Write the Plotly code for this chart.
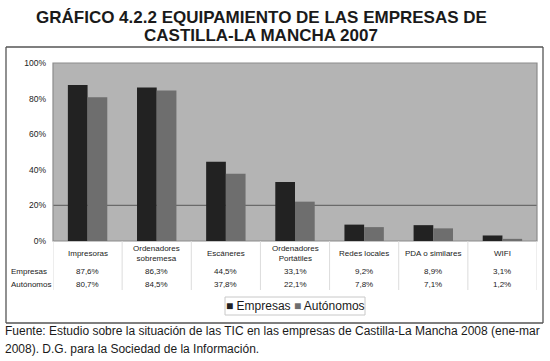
import plotly.graph_objects as go

categories = ["Impresoras", "Ordenadores<br>sobremesa", "Escáneres", "Ordenadores<br>Portátiles",
              "Redes locales", "PDA o similares", "WIFI"]
empresas = [87.6, 86.3, 44.5, 33.1, 9.2, 8.9, 3.1]
autonomos = [80.7, 84.5, 37.8, 22.1, 7.8, 7.1, 1.2]
empresas_lbl = ["87,6%", "86,3%", "44,5%", "33,1%", "9,2%", "8,9%", "3,1%"]
autonomos_lbl = ["80,7%", "84,5%", "37,8%", "22,1%", "7,8%", "7,1%", "1,2%"]
ytick_vals = [0, 20, 40, 60, 80, 100]
ytick_text = ["0%", "20%", "40%", "60%", "80%", "100%"]
series_names = ["Empresas", "Autónomos"]
series_colors = ["#222222", "#6e6e6e"]

W, H = 550, 361
L, R, T, B = 53, 13, 63, 120
PH = H - T - B  # plot height px


def py(ypx):
    return (H - B - ypx) / PH


def px(xpx):
    return (xpx - L) / (W - L - R)


FONT = "Liberation Sans, Arial, sans-serif"
TFONT = "Liberation Sans Narrow, Arial Narrow, sans-serif"
xs = list(range(len(categories)))

fig = go.Figure()
fig.add_bar(x=xs, y=empresas, name=series_names[0], marker=dict(color=series_colors[0], line=dict(width=0)))
fig.add_bar(x=xs, y=autonomos, name=series_names[1], marker=dict(color=series_colors[1], line=dict(width=0)))

shapes = []
# outer frame (four sides)
fl, fr, ft, fb = px(6), px(543), py(47), py(323)
for (a0, b0, a1, b1) in [(fl, ft, fr, ft), (fl, fb, fr, fb), (fl, ft, fl, fb), (fr, ft, fr, fb)]:
    shapes.append(dict(type="line", xref="paper", yref="paper", x0=a0, y0=b0, x1=a1, y1=b1,
                       line=dict(color="#555555", width=1.3)))
# gridline at 20%
shapes.append(dict(type="line", xref="paper", yref="y", x0=0, x1=1, y0=20, y1=20,
                   line=dict(color="#6a6a6a", width=1.2), layer="below"))
# plot border
shapes.append(dict(type="rect", xref="paper", yref="paper", x0=0, x1=1, y0=0, y1=1,
                   line=dict(color="#8c8c8c", width=1.2), layer="below"))
# table dividers
for i in range(len(categories) + 1):
    shapes.append(dict(type="line", xref="x", yref="paper", x0=i - 0.5, x1=i - 0.5, y0=0, y1=py(290),
                       line=dict(color="#dcdcdc", width=1)))
# legend box
shapes.append(dict(type="rect", xref="paper", yref="paper", x0=px(225), x1=px(365), y0=py(315), y1=py(297),
                   line=dict(color="#c8c8c8", width=1), fillcolor="white"))

ann = []
ann.append(dict(text="<b>GRÁFICO 4.2.2 EQUIPAMIENTO DE LAS EMPRESAS DE</b>", x=px(261), y=py(17),
                xref="paper", yref="paper", showarrow=False, xanchor="center", yanchor="middle",
                font=dict(family=TFONT, size=17, color="#1a1a1a")))
ann.append(dict(text="<b>CASTILLA-LA MANCHA 2007</b>", x=px(261), y=py(35),
                xref="paper", yref="paper", showarrow=False, xanchor="center", yanchor="middle",
                font=dict(family=TFONT, size=17, color="#1a1a1a")))
for i, c in enumerate(categories):
    ann.append(dict(text=c, x=i, y=py(253), xref="x", yref="paper", showarrow=False,
                    xanchor="center", yanchor="middle", font=dict(family=FONT, size=8, color="#222222")))
    ann.append(dict(text=empresas_lbl[i], x=i, y=py(271), xref="x", yref="paper", showarrow=False,
                    xanchor="center", yanchor="middle", font=dict(family=FONT, size=8, color="#222222")))
    ann.append(dict(text=autonomos_lbl[i], x=i, y=py(284), xref="x", yref="paper", showarrow=False,
                    xanchor="center", yanchor="middle", font=dict(family=FONT, size=8, color="#222222")))
ann.append(dict(text=series_names[0], x=px(9), y=py(271), xref="paper", yref="paper", showarrow=False,
                xanchor="left", yanchor="middle", font=dict(family=FONT, size=8, color="#222222")))
ann.append(dict(text=series_names[1], x=px(9), y=py(284), xref="paper", yref="paper", showarrow=False,
                xanchor="left", yanchor="middle", font=dict(family=FONT, size=8, color="#222222")))
# legend
legend_txt = (f"<span style='color:{series_colors[0]}'>■</span> {series_names[0]} "
              f"<span style='color:{series_colors[1]}'>■</span> {series_names[1]}")
ann.append(dict(text=legend_txt, x=px(295), y=py(306), xref="paper", yref="paper", showarrow=False,
                xanchor="center", yanchor="middle", font=dict(family=FONT, size=12, color="#1a1a1a")))
ann.append(dict(text="Fuente: Estudio sobre la situación de las TIC en las empresas de Castilla-La Mancha 2008 (ene-mar",
                x=px(3), y=py(331), xref="paper", yref="paper", showarrow=False, xanchor="left", yanchor="middle",
                font=dict(family=FONT, size=12, color="#1a1a1a")))
ann.append(dict(text="2008). D.G. para la Sociedad de la Información.",
                x=px(3), y=py(349), xref="paper", yref="paper", showarrow=False, xanchor="left", yanchor="middle",
                font=dict(family=FONT, size=12, color="#1a1a1a")))

fig.update_layout(
    width=W, height=H,
    margin=dict(l=L, r=R, t=T, b=B, autoexpand=False),
    paper_bgcolor="white",
    plot_bgcolor="#b4b4b4",
    barmode="group",
    bargap=0.43,
    bargroupgap=0,
    shapes=shapes,
    annotations=ann,
    showlegend=False,
    xaxis=dict(range=[-0.5, len(categories) - 0.5], showticklabels=False, showgrid=False,
               zeroline=False, showline=False, ticks=""),
    yaxis=dict(range=[0, 100], tickvals=ytick_vals, ticktext=ytick_text, showgrid=False,
               zeroline=False, showline=False, ticks="", ticklabelstandoff=6,
               tickfont=dict(family=FONT, size=8.5, color="#222222")),
    font=dict(family=FONT),
)

fig.write_html("out.html", config={"displayModeBar": False},
               post_script="document.body.style.margin='0px';document.body.style.padding='0px';")
